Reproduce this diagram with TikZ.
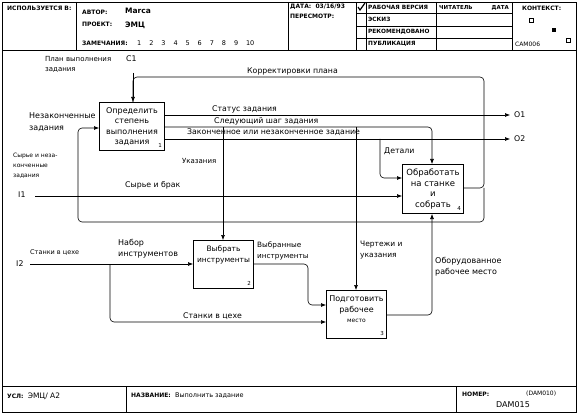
\documentclass[tikz,border=0pt]{standalone}
\usepackage{fontspec}
\setmainfont{DejaVu Sans}
\usetikzlibrary{arrows,arrows.meta,positioning}

\begin{document}
\begin{tikzpicture}[
x=1pt, y=-1pt,
>={Latex[length=5pt,width=4pt]},
funcbox/.style={rectangle, draw, line width=1pt, anchor=north west, align=center, inner sep=1pt, font=\fontsize{8}{10.5}\selectfont},
boxnum/.style={font=\fontsize{5.5}{6}\selectfont, anchor=south east, inner sep=3pt},
flowlabel/.style={font=\fontsize{7.8}{10.5}\selectfont, align=left, inner sep=0pt, anchor=west},
smalllabel/.style={flowlabel, font=\fontsize{6.5}{10}\selectfont},
headtext/.style={font=\bfseries\fontsize{6}{7}\selectfont, inner sep=0pt, anchor=west},
conn/.style={line width=0.6pt, rounded corners=4pt}]
\useasboundingbox (0,0) rectangle (578,414);
% Frame
\draw[line width=0.8pt] (2,2) rectangle (576,412);
\draw (2,50) -- (576,50);
\draw (76,2) -- (76,50);
\draw (288,2) -- (288,50);
\draw (356,2) rectangle (512,50);
\draw (356,13) -- (512,13);
\draw (356,26) -- (512,26);
\draw (356,38) -- (512,38);
\draw (366,2) -- (366,50);
\draw (436,2) -- (436,50);
\draw (2,386) -- (576,386);
\draw (126,386) -- (126,412);
\draw (456,386) -- (456,412);
% Header
\node[headtext] (used) at (7,8) {ИСПОЛЬЗУЕТСЯ В:};
\node[headtext] (author) at (82,12) {АВТОР:};
\node[headtext, font=\bfseries\fontsize{7.5}{8}\selectfont] (authorv) at (125,11) {Marca};
\node[headtext] (project) at (82,24) {ПРОЕКТ:};
\node[headtext, font=\bfseries\fontsize{7.5}{8}\selectfont] (projectv) at (125,25) {ЭМЦ};
\node[headtext] (notes) at (82,43) {ЗАМЕЧАНИЯ:};
\foreach \n [count=\i from 0] in {1,...,10}
  \node[headtext, font=\fontsize{6.5}{7}\selectfont] (note\n) at (137+12.1*\i,43) {\n};
\node[headtext] (date) at (290,7) {ДАТА:\ \ 03/16/93};
\node[headtext] (revision) at (290,16) {ПЕРЕСМОТР:};
\draw[line width=1.2pt] (358,7) -- (360,10) -- (365,3);
\node[headtext, font=\bfseries\fontsize{5.8}{7}\selectfont] (working) at (368,7.5) {РАБОЧАЯ ВЕРСИЯ};
\node[headtext, font=\bfseries\fontsize{5.8}{7}\selectfont] (sketch) at (368,19.5) {ЭСКИЗ};
\node[headtext, font=\bfseries\fontsize{5.8}{7}\selectfont] (recommended) at (368,32) {РЕКОМЕНДОВАНО};
\node[headtext, font=\bfseries\fontsize{5.8}{7}\selectfont] (publication) at (368,44) {ПУБЛИКАЦИЯ};
\node[headtext, font=\bfseries\fontsize{5.5}{7}\selectfont] (reader) at (439,7.5) {ЧИТАТЕЛЬ};
\node[headtext, font=\bfseries\fontsize{5.5}{7}\selectfont, anchor=east] (rdate) at (509,7.5) {ДАТА};
\node[headtext] (context) at (522,8) {КОНТЕКСТ:};
\draw (529.5,18.5) rectangle (533.5,22);
\fill (551.5,28.5) rectangle (555.5,32);
\draw (566.5,38.5) rectangle (570.5,42);
\node[headtext, font=\fontsize{6}{6}\selectfont] (ctxnum) at (515,44) {CAM006};
% Footer
\node[headtext] (level) at (7,396) {УСЛ:\ \ {\mdseries\fontsize{7.5}{8}\selectfont ЭМЦ/ А2}};
\node[headtext] (title) at (131,396) {НАЗВАНИЕ:\ \ {\mdseries\fontsize{6.5}{8}\selectfont Выполнить задание}};
\node[headtext] (number) at (462,394) {НОМЕР:};
\node[headtext, font=\fontsize{6}{7}\selectfont] (prevnum) at (526,394) {(DAM010)};
\node[headtext, font=\fontsize{8}{8}\selectfont] (curnum) at (496,405) {DAM015};
% Nodes
\node[funcbox, minimum width=65pt, minimum height=48pt] (b1) at (99,102)
  {Определить\\степень\\выполнения\\задания};
\node[boxnum] at (b1.south east) {1};
\node[funcbox, minimum width=60pt, minimum height=48pt, font=\fontsize{7.5}{10.5}\selectfont] (b2) at (193,240)
  {Выбрать\\инструменты\\~\\~};
\node[boxnum] at (b2.south east) {2};
\node[funcbox, minimum width=60pt, minimum height=48pt] (b3) at (326,290)
  {Подготовить\\рабочее\\{\fontsize{6}{7}\selectfont место}\\~};
\node[boxnum] at (b3.south east) {3};
\node[funcbox, minimum width=61pt, minimum height=49pt, font=\fontsize{8.5}{10.5}\selectfont] (b4) at (402,164)
  {Обработать\\на станке\\и\\собрать};
\node[boxnum] at (b4.south east) {4};
% Points
\coordinate (c1) at (133,73);
\coordinate (fbt) at (484,77);
\coordinate (fbx) at (484,188);
\coordinate (o1) at (510,115);
\coordinate (nx) at (432,127);
\coordinate (uk) at (223,127);
\coordinate (ch) at (356,127);
\coordinate (o2) at (510,139);
\coordinate (dt) at (380,178);
\coordinate (i1) at (35,196);
\coordinate (nz) at (78,128);
\coordinate (jx) at (78,222);
\coordinate (i2) at (30,264);
\coordinate (sx) at (110,322);
\coordinate (vx) at (308,305);
\coordinate (ob) at (432,315);
% Lines
\draw[conn, arrows={->}] (c1) -- (c1 |- b1.north);
\draw[conn] (b4.east |- fbx) -- (fbx) |- (c1 |- fbt) -- (c1 |- b1.north);
\draw[conn] (fbx) |- (jx) -- (jx |- i1);
\draw[conn, arrows={->}] (b1.east |- o1) -- (o1);
\draw[conn, arrows={->}] (b1.east |- nx) -| (nx |- b4.north);
\draw[conn, arrows={->}] (b1.east |- o2) -- (o2);
\draw[conn, arrows={->}] (dt |- o2) |- (b4.west |- dt);
\draw[conn, arrows={->}] (uk) -- (uk |- b2.north);
\draw[conn, arrows={->}] (ch) -- (ch |- b3.north);
\draw[conn, arrows={->}] (i1) -- (b4.west |- i1);
\draw[conn, arrows={->}] (jx |- i1) -- (nz) -- (b1.west |- nz);
\draw[conn, arrows={->}] (i2) -- (b2.west |- i2);
\draw[conn, arrows={->}] (sx |- i2) |- (b3.west |- sx);
\draw[conn, arrows={->}] (b2.east |- i2) -| (vx) -- (b3.west |- vx);
\draw[conn, arrows={->}] (b3.east |- ob) -| (ob |- b4.south);
% Labels
\node[flowlabel, font=\fontsize{7}{8}\selectfont] (planlbl) at (45,59) {План выполнения};
\node[flowlabel] (c1lbl) at (126,59) {C1};
\node[flowlabel, font=\fontsize{7}{8}\selectfont] (planlbl2) at (45,70) {задания};
\node[flowlabel] (corrlbl) at (247,71) {Корректировки плана};
\node[flowlabel] (statlbl) at (212,109) {Статус задания};
\node[flowlabel] (nextlbl) at (214,121) {Следующий шаг задания};
\node[flowlabel] (donelbl) at (187,132.5) {Законченное или незаконченное задание};
\node[flowlabel] (o1lbl) at (514,115) {O1};
\node[flowlabel] (o2lbl) at (514,139) {O2};
\node[flowlabel, anchor=north west, font=\fontsize{8}{12}\selectfont] (unflbl) at (29,112) {Незаконченные\\задания};
\node[smalllabel, anchor=north west, font=\fontsize{6}{10}\selectfont] (rawlbl) at (13,153) {Сырье и неза-\\конченные\\задания};
\node[flowlabel] (i1lbl) at (18,195) {I1};
\node[flowlabel, font=\fontsize{7}{8}\selectfont] (uklbl) at (182,161) {Указания};
\node[flowlabel] (scraplbl) at (125,185) {Сырье и брак};
\node[flowlabel] (dtlbl) at (384,151) {Детали};
\node[smalllabel] (machlbl) at (30,253) {Станки в цехе};
\node[flowlabel] (i2lbl) at (16,264) {I2};
\node[flowlabel, anchor=north west, font=\fontsize{8}{11}\selectfont] (setlbl) at (118,239) {Набор\\инструментов};
\node[flowlabel, anchor=north west, font=\fontsize{7.3}{11}\selectfont] (sellbl) at (257,242) {Выбранные\\инструменты};
\node[flowlabel, anchor=north west, font=\fontsize{7.5}{11}\selectfont] (drwlbl) at (360,241) {Чертежи и\\указания};
\node[flowlabel, anchor=north west, font=\fontsize{8}{11}\selectfont] (eqlbl) at (435,257) {Оборудованное\\рабочее место};
\node[flowlabel] (mach2lbl) at (183,316) {Станки в цехе};
\end{tikzpicture}
\end{document}
